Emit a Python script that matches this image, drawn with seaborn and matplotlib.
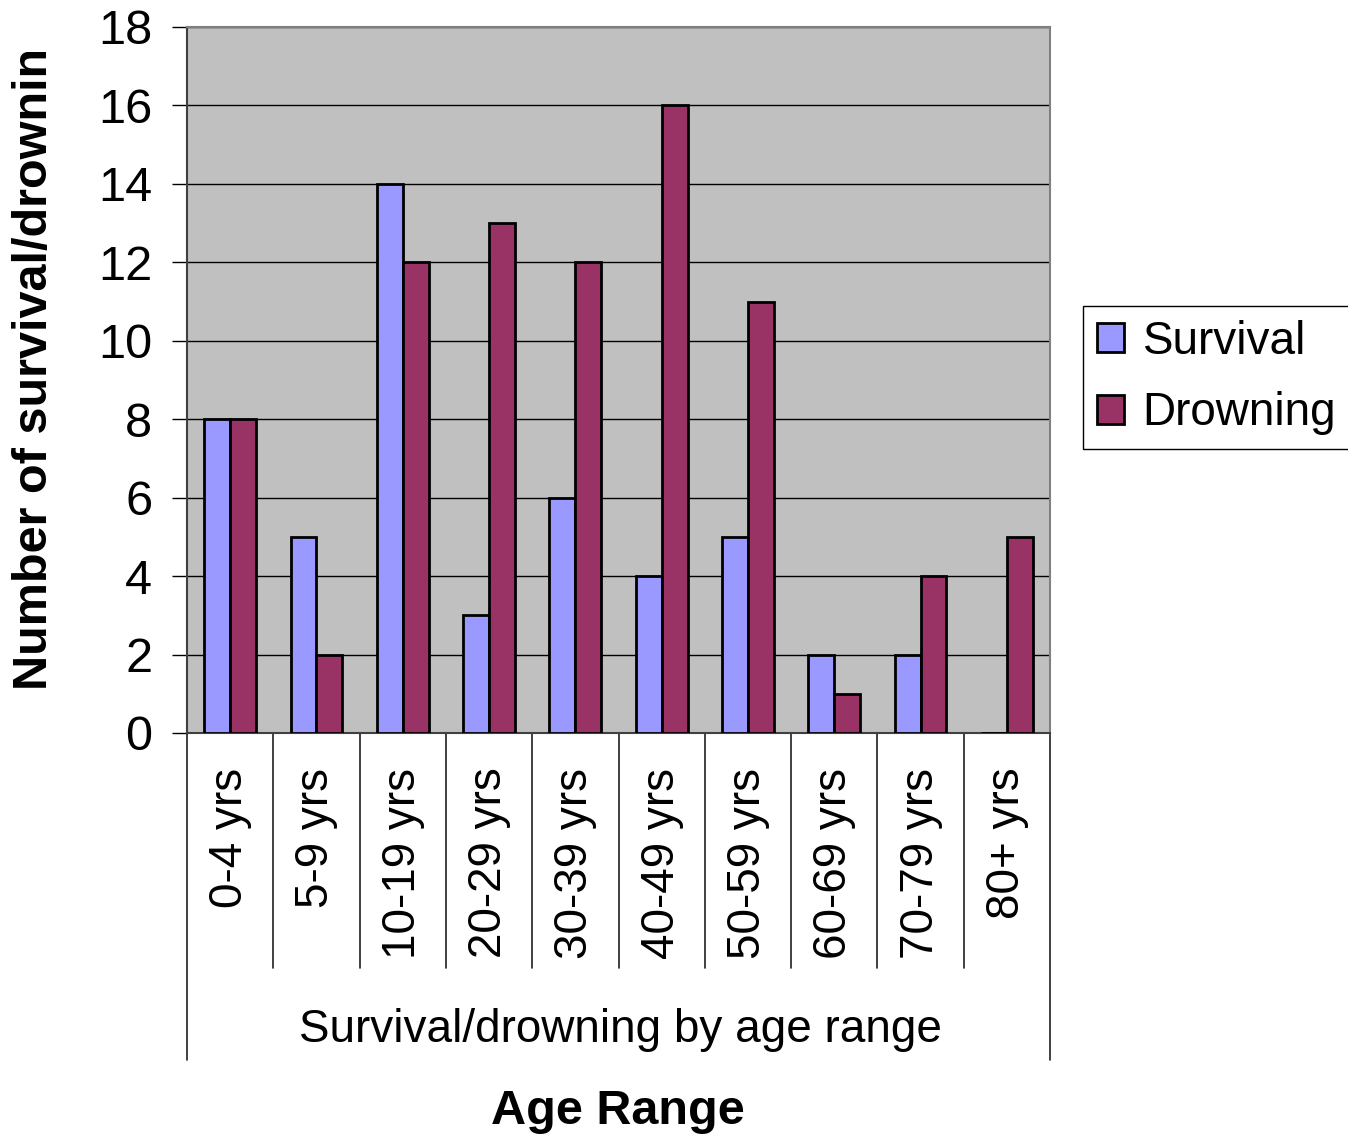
import matplotlib
matplotlib.use("Agg")
import matplotlib.pyplot as plt
from matplotlib.transforms import Bbox, TransformedBbox, blended_transform_factory
import seaborn as sns
import pandas as pd

categories = ['0-4 yrs', '5-9 yrs', '10-19 yrs', '20-29 yrs', '30-39 yrs',
              '40-49 yrs', '50-59 yrs', '60-69 yrs', '70-79 yrs', '80+ yrs']
survival = [8, 5, 14, 3, 6, 4, 5, 2, 2, 0]
drowning = [8, 2, 12, 13, 12, 16, 11, 1, 4, 5]
series_names = ['Survival', 'Drowning']
y_ticks = [0, 2, 4, 6, 8, 10, 12, 14, 16, 18]

sns.set_theme(style="white")
plt.rcParams['font.family'] = ['Liberation Sans', 'DejaVu Sans']
plt.rcParams['text.color'] = 'black'
plt.rcParams['xtick.color'] = 'black'
plt.rcParams['ytick.color'] = 'black'
plt.rcParams['xtick.labelcolor'] = 'black'
plt.rcParams['ytick.labelcolor'] = 'black'

df = pd.DataFrame({
    'Age': categories * 2,
    'Count': survival + drowning,
    'Series': [series_names[0]] * len(categories) + [series_names[1]] * len(categories),
})

W, H = 1348, 1139
fig = plt.figure(figsize=(W / 100, H / 100), dpi=100)
ax = fig.add_axes([187 / W, 1 - 733 / H, (1050 - 187) / W, (733 - 27) / H])
ax.set_facecolor('#C0C0C0')

palette = {'Survival': '#9999FF', 'Drowning': '#993366'}
sns.barplot(data=df, x='Age', y='Count', hue='Series', hue_order=series_names,
            order=categories, palette=palette, width=0.6, gap=0,
            edgecolor='black', linewidth=2, saturation=1, ax=ax, zorder=3,
            legend=True)

FS = 33
ax.set_xlim(-0.5, len(categories) - 0.5)
ax.set_ylim(0, 18)
ax.set_yticks(y_ticks)
ax.set_yticklabels([str(v) for v in y_ticks], fontsize=35, color='black')
ax.yaxis.grid(True, color='black', linewidth=1, zorder=1)
ax.set_axisbelow(True)
ax.tick_params(axis='y', length=11, width=1, color='black', pad=14, left=True)
ax.tick_params(axis='x', length=0, pad=25)
ax.set_xticks(range(len(categories)))
ax.set_xticklabels(categories, rotation=90, fontsize=FS, va='top', ha='center',
                   color='black')
ax.set_xlabel('')
ax.set_ylabel('')

for side in ['top', 'right']:
    ax.spines[side].set_color('#808080')
    ax.spines[side].set_linewidth(1.5)
ax.spines['left'].set_color('#404040')
ax.spines['left'].set_linewidth(1.5)
ax.spines['bottom'].set_color('#404040')
ax.spines['bottom'].set_linewidth(1.5)

# category separators below the axis
trans = blended_transform_factory(ax.transData, ax.transAxes)
n = len(categories)
for i in range(n + 1):
    b = i - 0.5
    y_end = -0.463 if i in (0, n) else -0.333
    ax.plot([b, b], [0, y_end], transform=trans, color='#202020', lw=1.2, clip_on=False)

fig.text(620 / W, 1 - 1030 / H, 'Survival/drowning by age range', fontsize=FS,
         ha='center', va='center', color='black')
fig.text(618 / W, 1 - 1112 / H, 'Age Range', fontsize=35, fontweight='bold',
         ha='center', va='center', color='black')

yl = fig.text(35 / W, 1 - 690 / H, 'Number of survival/drowning', fontsize=35,
              fontweight='bold', rotation=90, ha='center', va='bottom', color='black')
yl.set_clip_on(True)
yl.set_clip_box(TransformedBbox(Bbox([[0, 0], [1, 1 - 52 / H]]), fig.transFigure))

leg = ax.legend(loc='upper left', bbox_to_anchor=(1083 / W, 1 - 306 / H),
                bbox_transform=fig.transFigure, fontsize=FS, frameon=True,
                fancybox=False, edgecolor='black', facecolor='white',
                handlelength=0.6, handleheight=0.6, handletextpad=0.4,
                labelspacing=0.6, borderpad=0.3, borderaxespad=0)
leg.get_frame().set_linewidth(1)
leg.get_frame().set_alpha(1)
for t in leg.get_texts():
    t.set_color('black')
for h in leg.legend_handles:
    h.set_edgecolor('black')
    h.set_linewidth(2)

fig.savefig('out.png', dpi=100, facecolor='white')
